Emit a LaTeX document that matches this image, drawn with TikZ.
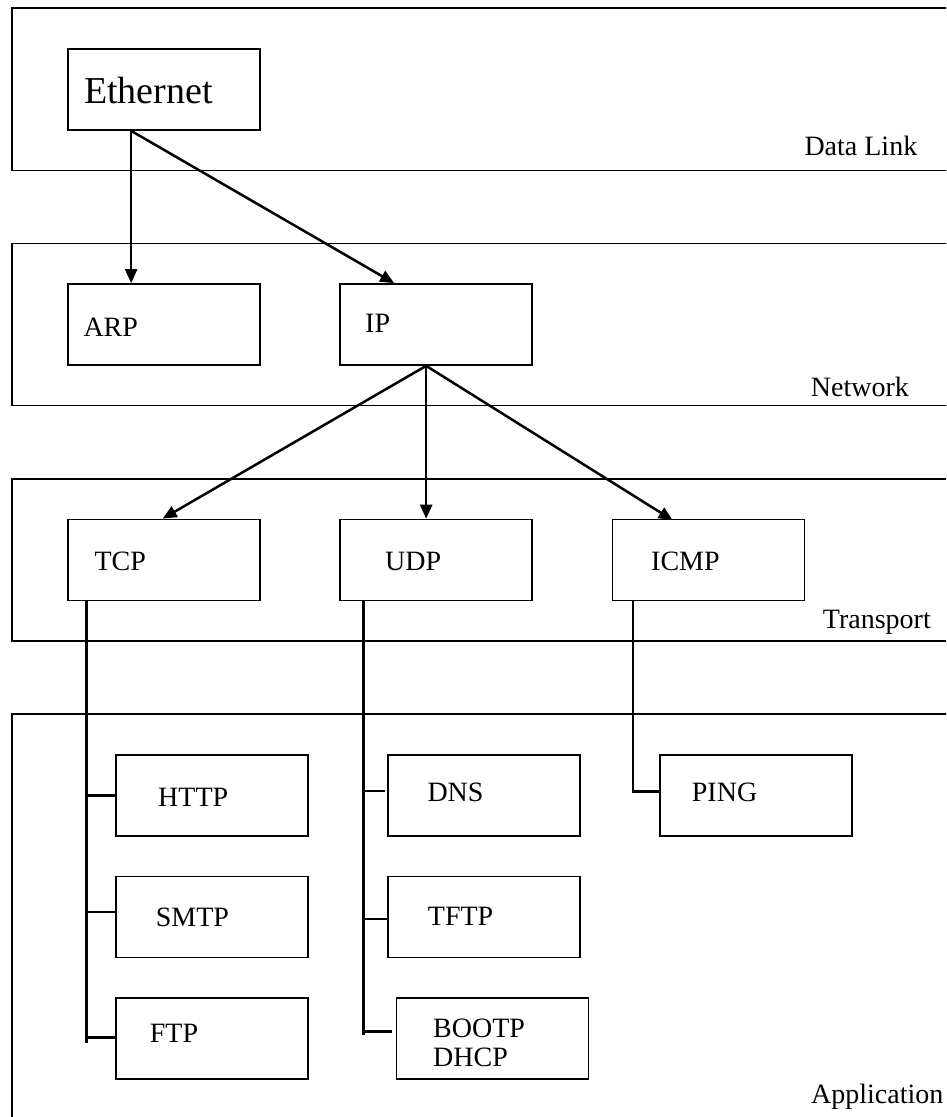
\documentclass[tikz,border=0pt]{standalone}
\usepackage{fontspec}
\setmainfont{Liberation Serif}
\usetikzlibrary{arrows.meta,calc}

\tikzset{
  layer/.style={draw=black, line width=1.5pt},
  proto/.style={draw=black, line width=1.7pt, rectangle, minimum width=192pt, minimum height=81pt, inner sep=0pt},
  lbl/.style={anchor=base west, inner sep=0pt, font=\fontsize{28}{29}\selectfont},
  flow/.style={line width=2.5pt, -{Triangle[length=14pt,width=12pt]}},
  bus/.style={line width=2.5pt}
}

\begin{document}
\begin{tikzpicture}[x=1pt,y=-1pt]
  \clip (0,0) rectangle (946,1117);
  \fill[white] (0,0) rectangle (946,1117);

  % layer bands (they run off the right edge)
  \draw[layer] (960,8) -- (12,8) -- (12,170.5) -- (960,170.5);
  \draw[layer] (960,243.5) -- (12,243.5) -- (12,405.5) -- (960,405.5);
  \draw[layer] (960,479) -- (12,479) -- (12,641) -- (960,641);
  \draw[layer] (960,714) -- (12,714) -- (12,1130);

  \node[lbl] (ldl)  at (804.3,155)   {Data Link};
  \node[lbl] (lnet) at (810.7,396.7) {Network};
  \node[lbl] (ltr)  at (822.7,628)   {Transport};
  \node[lbl] (lapp) at (811,1103)    {Application};

  % protocol boxes
  \node[proto] (eth)  at (164,89.5)   {};
  \node[proto] (arp)  at (164,324.5)  {};
  \node[proto] (ip)   at (436,324.5)  {};
  \node[proto] (tcp)  at (164,560)    {};
  \node[proto] (udp)  at (436,560)    {};
  \node[proto] (icmp) at (708.5,560)  {};
  \node[proto] (http) at (212,795.5)  {};
  \node[proto] (smtp) at (212,917)    {};
  \node[proto] (ftp)  at (212,1038.5) {};
  \node[proto] (dns)  at (484,795.5)  {};
  \node[proto] (tftp) at (484,917)    {};
  \node[proto] (boot) at (492.5,1038.5) {};
  \node[proto] (ping) at (756,795.5)  {};

  % box texts
  \node[lbl, font=\fontsize{38}{40}\selectfont] (tEth) at (84,103) {Ethernet};
  \node[lbl] (tArp)  at (83.3,336.7)  {ARP};
  \node[lbl] (tIp)   at (365,332.7)   {IP};
  \node[lbl] (tTcp)  at (94.3,570)    {TCP};
  \node[lbl] (tUdp)  at (385,570)     {UDP};
  \node[lbl] (tIcmp) at (651,570)     {ICMP};
  \node[lbl] (tHttp) at (158,806)     {HTTP};
  \node[lbl] (tSmtp) at (155.7,926)   {SMTP};
  \node[lbl] (tFtp)  at (149.7,1042.7) {FTP};
  \node[lbl] (tDns)  at (427.3,801.7) {DNS};
  \node[lbl] (tTftp) at (427.7,925.7) {TFTP};
  \node[lbl] (tBoot) at (433,1037.7)  {BOOTP};
  \node[lbl] (tDhcp) at (433,1066.7)  {DHCP};
  \node[lbl] (tPing) at (691.7,801.7) {PING};

  % arrows between layers
  \coordinate (ethout) at ($(eth.south west)+(64,0)$);
  \coordinate (ipout)  at ($(ip.south west)+(87,0)$);
  \draw[flow] (ethout) -- ($(arp.north west)+(64,0)$);
  \draw[flow] (ethout) -- ($(ip.north west)+(55,0)$);
  \draw[flow] (ipout) -- ($(tcp.north west)+(95.5,0)$);
  \draw[flow] (ipout) -- ($(udp.north west)+(87,0)$);
  \draw[flow] (ipout) -- ($(icmp.north west)+(61,1.5)$);

  % TCP bus
  \coordinate (tcpbus) at ($(tcp.south west)+(19.5,0)$);
  \draw[bus] (tcpbus) -- ++(0,442);
  \draw[bus] (tcpbus |- http.west) -- (http.west);
  \draw[bus] (tcpbus |- 0,912) -- (smtp.west |- 0,912);
  \draw[bus] (tcpbus |- 0,1037.7) -- (ftp.west |- 0,1037.7);

  % UDP bus
  \coordinate (udpbus) at ($(udp.south west)+(24.5,0)$);
  \draw[bus] (udpbus) -- ++(0,434);
  \draw[bus] (udpbus |- 0,791) -- ($(dns.west |- 0,791)+(-2,0)$);
  \draw[bus] (udpbus |- 0,919) -- (tftp.west |- 0,919);
  \draw[bus] (udpbus |- 0,1031.7) -- ($(boot.west |- 0,1031.7)+(-4,0)$);

  % ICMP bus
  \coordinate (icmpbus) at ($(icmp.south west)+(21.3,0)$);
  \draw[bus] (icmpbus) |- (ping.west |- 0,791.7);
\end{tikzpicture}
\end{document}
